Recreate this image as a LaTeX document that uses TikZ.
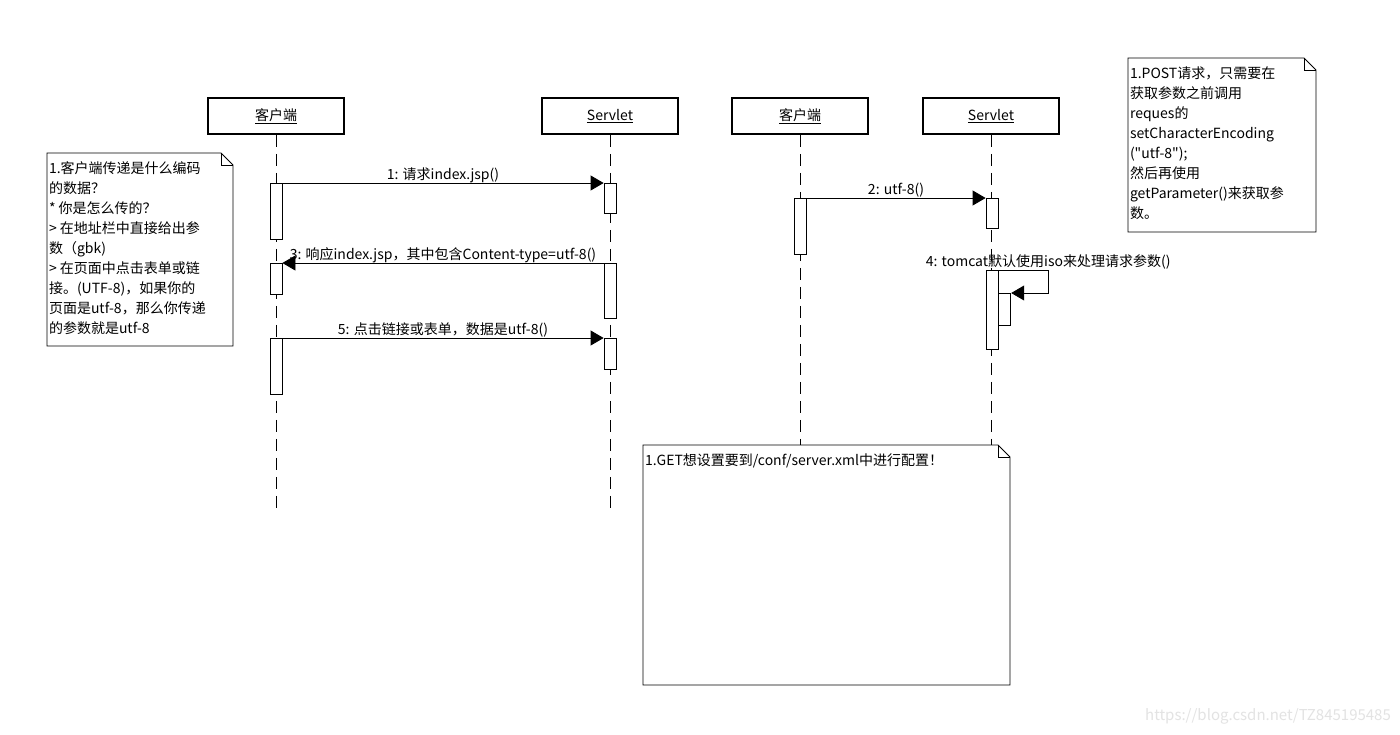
\documentclass[tikz,border=0pt]{standalone}
\usepackage{fontspec}
\setmainfont{Noto Sans CJK SC}
\newfontfamily\qfont{Noto Sans CJK SC}
\usetikzlibrary{arrows.meta,positioning}
\tikzset{
  lhead/.style={draw, line width=1.6pt, minimum width=136pt, minimum height=36pt, inner sep=0pt},
  lline/.style={line width=0.8pt, dash pattern=on 12pt off 7pt},
  actbar/.style={draw, fill=white, line width=0.8pt, minimum width=12pt, inner sep=0pt, anchor=north},
  msg/.style={-{Triangle[length=13pt,width=15pt]}, line width=0.8pt},
  mlabel/.style={anchor=base, yshift=4pt, inner sep=0pt},
  notebox/.style={anchor=north west, inner xsep=2pt, inner ysep=6pt, outer sep=0pt},
  noteline/.style={line width=0.8pt}
}
\newcommand{\notetext}[3]{\begin{minipage}[t][#2][t]{#1}\raggedright\strut #3\end{minipage}}
\newcommand{\dogear}[1]{%
  \draw[noteline] (#1.north west) -- ([xshift=-12pt]#1.north east) -- ([yshift=-12pt]#1.north east) -- (#1.south east) -- (#1.south west) -- cycle;
  \draw[noteline] ([xshift=-12pt]#1.north east) |- ([yshift=-12pt]#1.north east);}
\newcommand{\qq}{{\qfont"}}

\begin{document}
\begin{tikzpicture}[x=1pt,y=-1pt,font=\fontsize{14}{20}\selectfont]
\useasboundingbox[fill=white] (0,0) rectangle (1400,734);

% lifeline heads
\node[lhead] (c1) at (276,116) {\underline{客户端}};
\node[lhead] (s1) at (610,116) {\underline{Servlet}};
\node[lhead] (c2) at (800,116) {\underline{客户端}};
\node[lhead] (s2) at (991,116) {\underline{Servlet}};

% notes
\node[notebox] (n1) at (47,153) {\notetext{182pt}{181pt}{1.客户端传递是什么编码\\的数据？\\{}* 你是怎么传的？\\> 在地址栏中直接给出参\\数（gbk)\\> 在页面中点击表单或链\\接。(UTF-8)，如果你的\\页面是utf-8，那么你传递\\的参数就是utf-8}};
\node[notebox] (n2) at (1128,58) {\notetext{184pt}{162pt}{1.POST请求，只需要在\\获取参数之前调用\\reques的\\setCharacterEncoding\\(\qq utf-8\qq);\\然后再使用\\getParameter()来获取参\\数。}};
\node[notebox] (n3) at (643,445) {\notetext{363pt}{228pt}{1.GET想设置要到/conf/server.xml中进行配置！}};
\dogear{n1}
\dogear{n2}
\dogear{n3}

% lifelines
\coordinate (c1end) at (276,508);
\coordinate (s1end) at (610,508);
\draw[lline] (c1.south) -- (c1end);
\draw[lline] (s1.south) -- (s1end);
\draw[lline] (c2.south) -- (c2.south |- n3.north);
\draw[lline] (s2.south) -- (s2.south |- n3.north);

% activations
\node[actbar, minimum height=56pt] (a1) at (276,183) {};
\node[actbar, minimum height=31pt] (a2) at (276,263) {};
\node[actbar, minimum height=56pt] (a3) at (276,338) {};
\node[actbar, minimum height=30pt] (b1) at (610,183) {};
\node[actbar, minimum height=55pt] (b2) at (610,263) {};
\node[actbar, minimum height=31pt] (b3) at (610,338) {};
\node[actbar, minimum height=56pt] (a4) at (800,198) {};
\node[actbar, minimum height=30pt] (b4) at (992,198) {};
\node[actbar, minimum height=79pt] (b5) at (992,270) {};
\node[actbar, minimum height=32pt, anchor=north west] (b6) at (b5.east |- 0,293) {};

% messages
\draw[msg] (a1.north east) -- node[mlabel] {1: 请求index.jsp()} (b1.north west);
\draw[msg] (a4.north east) -- node[mlabel] {2: utf-8()} (b4.north west);
\draw[msg] (b2.north west) -- node[mlabel] {3: 响应index.jsp，其中包含Content-type=utf-8()} (a2.north east);
\draw[msg] (b5.north east) -| node[mlabel, pos=0.5] {4: tomcat默认使用iso来处理请求参数()} ([xshift=37pt]b6.north east) -- (b6.north east);
\draw[msg] (a3.north east) -- node[mlabel] {5: 点击链接或表单，数据是utf-8()} (b3.north west);

\node[text=gray!22, font=\fontsize{15}{18}\selectfont] (wm) at (1268,716) {https://blog.csdn.net/TZ845195485};
\end{tikzpicture}
\end{document}
